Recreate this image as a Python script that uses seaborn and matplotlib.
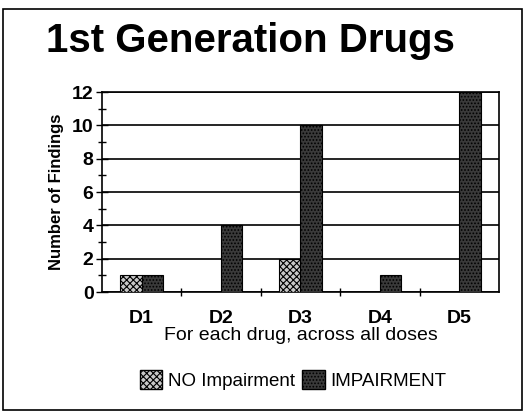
import pandas as pd
import seaborn as sns
import matplotlib.pyplot as plt
from matplotlib.patches import Rectangle, Patch

drugs = ["D1", "D2", "D3", "D4", "D5"]
no_impairment = [1, 0, 2, 0, 0]
impairment = [1, 4, 10, 1, 12]

df = pd.DataFrame({
    "Drug": drugs * 2,
    "Findings": no_impairment + impairment,
    "Group": ["NO Impairment"] * 5 + ["IMPAIRMENT"] * 5,
})

sns.set_style("white")
plt.rcParams['font.family'] = ['Liberation Sans', 'DejaVu Sans']
plt.rcParams['hatch.linewidth'] = 0.8
plt.rcParams['text.color'] = 'black'
plt.rcParams['axes.labelcolor'] = 'black'
plt.rcParams['xtick.color'] = 'black'
plt.rcParams['ytick.color'] = 'black'

fig = plt.figure(figsize=(5.28, 4.15), dpi=100)
ax = fig.add_axes([0.193, 0.296, 0.752, 0.482])

colors = {"NO Impairment": "#c8c8c8", "IMPAIRMENT": "#3a3a3a"}
hatches = {"NO Impairment": "xxxxx", "IMPAIRMENT": "....."}

sns.barplot(data=df, x="Drug", y="Findings", hue="Group", palette=colors,
            width=0.54, saturation=1, ax=ax, legend=False, zorder=3)

for group, container in zip(["NO Impairment", "IMPAIRMENT"], ax.containers):
    for bar in container:
        bar.set_hatch(hatches[group])
        bar.set_edgecolor("black")
        bar.set_linewidth(0.8)

ax.set_ylim(0, 12)
ax.set_xlim(-0.5, 4.5)
ax.set_yticks(range(0, 13, 2))
ax.set_yticks(range(1, 12, 2), minor=True)
ax.set_xticks([0.5, 1.5, 2.5, 3.5], minor=True)
ax.yaxis.grid(True, color="black", linewidth=1.2, zorder=0)
for s in ax.spines.values():
    s.set_color("black")
    s.set_linewidth(1.2)
ax.tick_params(axis="y", which="major", left=True, direction="inout", length=8, width=1,
               labelsize=14, pad=2)
ax.tick_params(axis="y", which="minor", left=True, direction="inout", length=6, width=1)
ax.tick_params(axis="x", which="major", bottom=False, labelsize=14, pad=9)
ax.tick_params(axis="x", which="minor", bottom=True, direction="inout", length=6, width=1)
for lab in ax.get_yticklabels():
    lab.set_fontweight("bold")
for lab in ax.get_xticklabels():
    lab.set_fontweight("bold")

ax.set_ylabel("Number of Findings", fontsize=12, fontweight="bold", labelpad=6)
ax.set_xlabel("For each drug, across all doses", fontsize=14, labelpad=0)

fig.text(0.475, 0.9, "1st Generation Drugs", ha="center", va="center",
         fontsize=29, fontweight="bold")

handles = [Patch(facecolor=colors[g], hatch=hatches[g], edgecolor="black", label=g)
           for g in ["NO Impairment", "IMPAIRMENT"]]
fig.legend(handles=handles, loc="center", bbox_to_anchor=(0.555, 0.085), ncol=2,
           frameon=False, fontsize=13.5, handlelength=1.2, handleheight=1.2,
           handletextpad=0.3, columnspacing=0.4)

fig.patches.append(Rectangle((0.006, 0.012), 0.982, 0.966, transform=fig.transFigure,
                             fill=False, edgecolor="black", linewidth=1.2))

fig.savefig("out.png", dpi=100)
